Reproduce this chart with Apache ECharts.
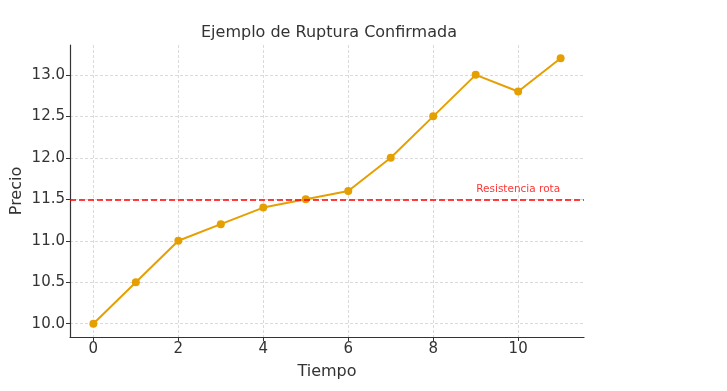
<!DOCTYPE html>
<html><head><meta charset="utf-8">
<script src="https://cdn.jsdelivr.net/npm/echarts@6/dist/echarts.min.js"></script>
<style>html,body{margin:0;padding:0;background:#fff}#c{width:727px;height:391px}</style>
</head><body><div id="c"></div>
<script>
const tiempo = [0,1,2,3,4,5,6,7,8,9,10,11];
const precio = [10.0,10.5,11.0,11.2,11.4,11.5,11.6,12.0,12.5,13.0,12.8,13.2];
const xTicks = [0,2,4,6,8,10];
const yTicks = [10.0,10.5,11.0,11.5,12.0,12.5,13.0];
const resistencia = 11.5;
const resLabel = 'Resistencia rota';
const resLabelX = 10;
const resLabelY = 11.6;

const font = 'DejaVu Sans';
const chart = echarts.init(document.getElementById('c'));
chart.setOption({
  animation:false,
  title:{text:'Ejemplo de Ruptura Confirmada',left:196,top:20,
    textStyle:{fontFamily:font,fontSize:16,fontWeight:'normal',color:'#333'}},
  grid:{left:70,right:143,top:45,bottom:54,containLabel:false,outerBoundsMode:'none'},
  xAxis:{type:'value',min:-0.55,max:11.55,
    name:'Tiempo',nameLocation:'middle',nameGap:27,nameMoveOverlap:false,
    nameTextStyle:{fontFamily:font,fontSize:16,color:'#333'},
    axisLine:{onZero:false,lineStyle:{color:'#333',width:1.2}},
    axisTick:{customValues:xTicks,length:4,inside:false,lineStyle:{color:'#333'}},
    axisLabel:{customValues:xTicks,fontFamily:font,fontSize:15,color:'#333',margin:5},
    splitLine:{show:true,lineStyle:{color:'#d0d0d0',type:[3,2],width:0.8}}},
  yAxis:{type:'value',min:9.84,max:13.36,
    name:'Precio',nameLocation:'middle',nameGap:45,nameMoveOverlap:false,
    nameTextStyle:{fontFamily:font,fontSize:16,color:'#333'},
    axisLine:{show:true,onZero:false,lineStyle:{color:'#333',width:1.2}},
    axisTick:{show:true,inside:false,customValues:yTicks,length:4,lineStyle:{color:'#333'}},
    axisLabel:{customValues:yTicks,fontFamily:font,fontSize:15,color:'#333',margin:5,
      formatter:v=>Number(v).toFixed(1)},
    splitLine:{show:true,lineStyle:{color:'#d0d0d0',type:[3,2],width:0.8}}},
  series:[
    {type:'line',data:tiempo.map((t,i)=>[t,precio[i]]),
     symbol:'circle',symbolSize:8,
     lineStyle:{color:'#E69F00',width:2},itemStyle:{color:'#E69F00'},
     markLine:{silent:true,symbol:'none',label:{show:false},
       lineStyle:{color:'#FF0000',type:[6,3],width:1.6},
       data:[{yAxis:resistencia}]}},
    {type:'scatter',data:[[resLabelX,resLabelY]],symbolSize:0,
     label:{show:true,position:'top',distance:-4,formatter:resLabel,fontFamily:font,fontSize:10.5,color:'#FF0000'}}
  ]
});
</script></body></html>
